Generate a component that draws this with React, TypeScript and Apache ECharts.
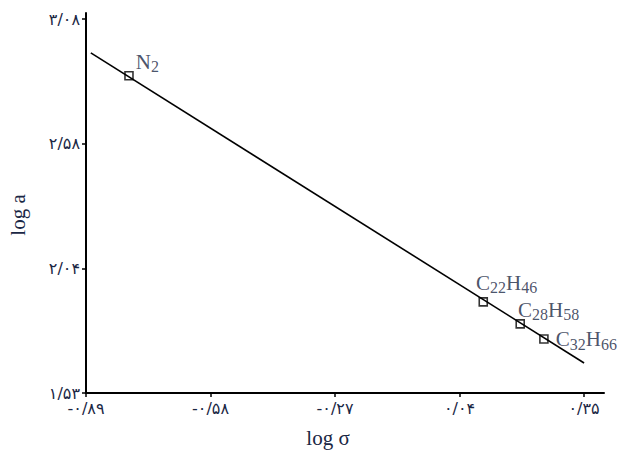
import React, { useEffect, useRef } from "react";
import * as echarts from "echarts";

// Axis ticks (evenly spaced on the picture) and their Persian labels
const xTickValues = [-0.89, -0.58, -0.27, 0.04, 0.35];
const xTickLabels = ["-۰/۸۹", "-۰/۵۸", "-۰/۲۷", "۰/۰۴", "۰/۳۵"];
const yTickValues = [1.53, 2.04, 2.58, 3.08];
const yTickLabels = ["۱/۵۳", "۲/۰۴", "۲/۵۸", "۳/۰۸"];

// Data points
const compounds = ["N2", "C22H46", "C28H58", "C32H66"];
const compoundRich = ["{m|N}{s|2}", "{m|C}{s|22}{m|H}{s|46}", "{m|C}{s|28}{m|H}{s|58}", "{m|C}{s|32}{m|H}{s|66}"];
const logSigma = [-0.783, 0.099, 0.191, 0.25];
const logA = [2.853, 1.903, 1.813, 1.751];

// Fitted line end points
const fitLogSigma = [-0.878, 0.35];
const fitLogA = [2.945, 1.653];

// map a value onto the evenly spaced tick positions (0,1,2,...)
function toUnit(v: number, ticks: number[]): number {
  for (let i = 0; i < ticks.length - 1; i++) {
    const a = ticks[i], b = ticks[i + 1];
    if ((v >= a && v <= b) || i === ticks.length - 2 || (i === 0 && v < a)) {
      return i + (v - a) / (b - a);
    }
  }
  return 0;
}

const navy = "#1a2744";

export default function App() {
  const ref = useRef<HTMLDivElement>(null);
  useEffect(() => {
    if (!ref.current) return;
    const chart = echarts.init(ref.current, undefined, { renderer: "svg" });
    const labelOffsets = [[2, -14], [-12, -19], [-7, -14], [7, 0]];
    const points = logSigma.map((x, i) => ({
      value: [toUnit(x, xTickValues), toUnit(logA[i], yTickValues)],
      name: compounds[i],
      label: {
        show: true,
        position: "right",
        distance: 0,
        offset: labelOffsets[i],
        formatter: compoundRich[i],
        rich: {
          m: { fontFamily: "Liberation Serif, serif", fontSize: 21, color: navy },
          s: { fontFamily: "Liberation Serif, serif", fontSize: 16, color: navy, padding: [10, 0, 0, 0] },
        },
      },
    }));
    const fit = fitLogSigma.map((x, i) => [toUnit(x, xTickValues), toUnit(fitLogA[i], yTickValues)]);
    chart.setOption({
      animation: false,
      grid: { left: 86, right: 15, top: 13, bottom: 60, containLabel: false, outerBoundsMode: "none" },
      xAxis: {
        type: "value",
        min: 0,
        max: 4.16,
        interval: 1,
        splitLine: { show: false },
        axisLine: { show: true, lineStyle: { color: "#000", width: 2 } },
        axisTick: { show: true, length: 4, customValues: [0, 1, 2, 3, 4], lineStyle: { color: "#000", width: 1.5 } },
        axisLabel: {
          customValues: [0, 1, 2, 3, 4],
          formatter: (v: number) => xTickLabels[Math.round(v)] ?? "",
          color: navy,
          fontFamily: "DejaVu Sans, sans-serif",
          fontSize: 16,
          margin: 7,
        },
        name: "log σ",
        nameLocation: "middle",
        nameGap: 34,
        nameTextStyle: { fontFamily: "Liberation Serif, serif", fontSize: 21, color: navy, padding: [0, 34, 0, 0] },
      },
      yAxis: {
        type: "value",
        min: 0,
        max: 3.05,
        interval: 1,
        splitLine: { show: false },
        axisLine: { show: true, lineStyle: { color: "#000", width: 2 } },
        axisTick: { show: true, length: 4, customValues: [0, 1, 2, 3], lineStyle: { color: "#000", width: 1.5 } },
        axisLabel: {
          customValues: [0, 1, 2, 3],
          formatter: (v: number) => yTickLabels[Math.round(v)] ?? "",
          color: navy,
          fontFamily: "DejaVu Sans, sans-serif",
          fontSize: 16,
          margin: 6,
        },
        name: "log a",
        nameLocation: "middle",
        nameGap: 58,
        nameRotate: 90,
        nameTextStyle: { fontFamily: "Liberation Serif, serif", fontSize: 21, color: navy, padding: [0, 24, 0, 0] },
      },
      series: [
        {
          type: "line",
          data: fit,
          symbol: "none",
          lineStyle: { color: "#000", width: 1.6 },
          z: 2,
        },
        {
          type: "scatter",
          data: points,
          symbol: "rect",
          symbolSize: 8,
          itemStyle: { color: "rgba(255,255,255,0)", borderColor: "#000", borderWidth: 1.6 },
          z: 3,
        },
      ],
    });
    return () => chart.dispose();
  }, []);
  return <div ref={ref} style={{ position: "absolute", left: 0, top: 0, width: 619, height: 453 }} />;
}
